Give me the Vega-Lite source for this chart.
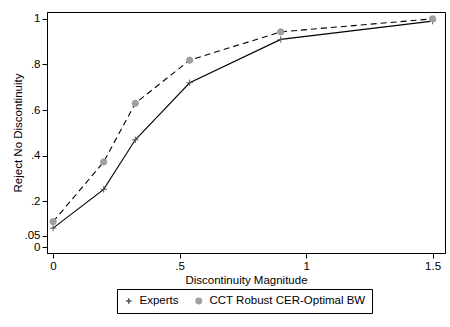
{
  "$schema": "https://vega.github.io/schema/vega-lite/v6.json",
  "width": 398,
  "height": 241,
  "autosize": "none",
  "padding": {"left": 47, "top": 12, "right": 5, "bottom": 74},
  "background": "white",
  "config": {
    "font": "Liberation Sans",
    "view": {"stroke": "black", "strokeWidth": 1},
    "axis": {
      "grid": false,
      "domainColor": "black",
      "tickColor": "black",
      "labelColor": "black",
      "titleColor": "black",
      "labelFont": "Liberation Sans",
      "titleFont": "Liberation Sans",
      "labelFontSize": 11.5,
      "titleFontSize": 11.5,
      "titleFontWeight": "normal",
      "tickSize": 5,
      "labelPadding": 2,
      "labelOverlap": false
    },
    "legend": {
      "orient": "none",
      "direction": "horizontal",
      "legendX": 70,
      "legendY": 277,
      "strokeColor": "black",
      "padding": 6,
      "labelFont": "Liberation Sans",
      "labelFontSize": 11.5,
      "labelColor": "black",
      "labelLimit": 0,
      "columnPadding": 14,
      "symbolSize": 30,
      "labelOffset": 5
    }
  },
  "data": {
    "values": [
      {"x": 0, "y": 0.083, "series": "Experts"},
      {"x": 0.2, "y": 0.253, "series": "Experts"},
      {"x": 0.325, "y": 0.47, "series": "Experts"},
      {"x": 0.54, "y": 0.72, "series": "Experts"},
      {"x": 0.9, "y": 0.91, "series": "Experts"},
      {"x": 1.5, "y": 0.99, "series": "Experts"},
      {"x": 0, "y": 0.111, "series": "CCT Robust CER-Optimal BW"},
      {"x": 0.2, "y": 0.373, "series": "CCT Robust CER-Optimal BW"},
      {"x": 0.325, "y": 0.63, "series": "CCT Robust CER-Optimal BW"},
      {"x": 0.54, "y": 0.819, "series": "CCT Robust CER-Optimal BW"},
      {"x": 0.9, "y": 0.943, "series": "CCT Robust CER-Optimal BW"},
      {"x": 1.5, "y": 1.0, "series": "CCT Robust CER-Optimal BW"}
    ]
  },
  "encoding": {
    "x": {
      "field": "x", "type": "quantitative",
      "scale": {"domain": [-0.024, 1.549], "nice": false, "zero": false},
      "axis": {"values": [0, 0.5, 1, 1.5], "title": "Discontinuity Magnitude", "titlePadding": 3,
        "labelExpr": "datum.value == 0 ? '0' : (datum.value < 1 ? substring(format(datum.value, '~g'), 1) : format(datum.value, '~g'))"}
    },
    "y": {
      "field": "y", "type": "quantitative",
      "scale": {"domain": [-0.026, 1.03], "nice": false, "zero": false},
      "axis": {"values": [0, 0.05, 0.2, 0.4, 0.6, 0.8, 1], "title": "Reject No Discontinuity", "titlePadding": 1,
        "labelExpr": "datum.value == 0 ? '0' : (datum.value < 1 ? substring(format(datum.value, '~g'), 1) : format(datum.value, '~g'))"}
    }
  },
  "layer": [
    {
      "transform": [{"filter": "datum.series == 'Experts'"}],
      "mark": {"type": "line", "color": "black", "strokeWidth": 1.1},
      "encoding": {}
    },
    {
      "transform": [{"filter": "datum.series != 'Experts'"}],
      "mark": {"type": "line", "color": "black", "strokeWidth": 1.1, "strokeDash": [6, 4]},
      "encoding": {}
    },
    {
      "mark": {"type": "point", "filled": true, "size": 40, "strokeWidth": 1, "opacity": 1},
      "encoding": {
        "color": {
          "field": "series", "type": "nominal", "title": null,
          "scale": {"domain": ["Experts", "CCT Robust CER-Optimal BW"], "range": ["#555555", "#a0a0a0"]}
        },
        "stroke": {
          "field": "series", "type": "nominal", "title": null,
          "scale": {"domain": ["Experts", "CCT Robust CER-Optimal BW"], "range": ["#555555", "#a0a0a0"]}
        },
        "shape": {
          "field": "series", "type": "nominal", "title": null,
          "scale": {"domain": ["Experts", "CCT Robust CER-Optimal BW"], "range": ["M-1,0L1,0M0,-1L0,1", "circle"]}
        }
      }
    }
  ]
}
